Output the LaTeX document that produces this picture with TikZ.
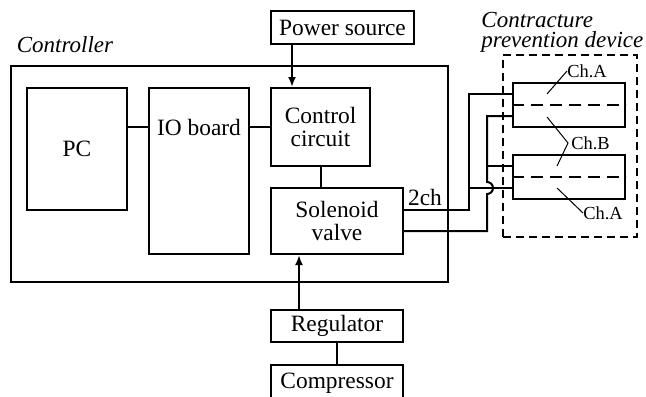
\documentclass[tikz,border=0pt]{standalone}
\usepackage{fontspec}
\setmainfont{Liberation Serif}
\usetikzlibrary{arrows.meta,calc}
\begin{document}
\begin{tikzpicture}[x=0.5pt,y=-0.5pt,
  sz/.style 2 args={minimum width=#1*0.5pt, minimum height=#2*0.5pt},
  box/.style={draw, line width=1pt, rectangle, inner sep=0pt, align=center, font=\fontsize{11.7}{11.5}\selectfont},
  lbl/.style={inner sep=0pt, font=\fontsize{11.7}{11.5}\selectfont},
  wire/.style={line width=1pt},
  arr/.style={line width=1pt, -{Latex[length=5pt,width=4pt]}},
  lead/.style={line width=0.5pt},
  chlbl/.style={font=\fontsize{9.2}{10}\selectfont, inner sep=0pt},
  ttl/.style={font=\fontsize{11.5}{10}\selectfont\itshape, inner sep=0pt, align=left},
  innerdash/.style={line width=1pt, dash pattern=on 6pt off 3.5pt},
  outerdash/.style={line width=0.6pt, dash pattern=on 4pt off 2.5pt}]
\useasboundingbox (0,0) rectangle (646,396);

% controller
\node[box, sz={437}{216}] (ctrl) at (229.5,174) {};
\node[ttl] (ctrltitle) at (65,45) {Controller};
\node[box, sz={100}{122}] (pc) at (77,149) {PC};
\node[box, sz={100}{166}] (io) at (199,171) {};
\node[lbl] (iotext) at (199,127) {IO board};
\node[box, sz={143}{33}] (power) at (342.5,27.5) {Power source};
\node[box, sz={99}{78}] (cc) at (320.5,127) {Control\\circuit};
\node[box, sz={132}{66}] (sv) at (337,221) {Solenoid\\valve};
\node[box, sz={132}{32}] (reg) at (337,326) {Regulator};
\node[box, sz={132}{36}] (comp) at (337,383) {Compressor};
\node[lbl] (twoch) at (425,197) {2ch};

% device
\node[draw, outerdash, sz={134}{182}] (dev) at (570,146) {};
\node[ttl, anchor=west] (devtitle) at (481,32) {Contracture\\prevention device};
\node[box, sz={112}{44}] (b1) at (569,105) {};
\node[box, sz={112}{44}] (b2) at (569,177) {};
\draw[innerdash] (b1.west) -- (b1.east);
\draw[innerdash] (b2.west) -- (b2.east);

% connections
\draw[wire] (iotext.west -| pc.east) -- (iotext.west -| io.west);
\draw[wire] (cc.west -| io.east) -- (cc.west);
\draw[arr] ([xshift=-14.25pt]power.south -| cc.north) -- ([xshift=-14.25pt]cc.north);
\draw[wire] (cc.south) -- (cc.south |- sv.north);
\draw[arr] ([xshift=-19pt]reg.north) -- ([xshift=-19pt]sv.south);
\draw[wire] (reg) -- (comp);

\coordinate (o1) at ([yshift=5.5pt]sv.east);
\coordinate (o2) at ([yshift=-5pt]sv.east);
\coordinate (b1a) at ([yshift=5.5pt]b1.west);
\coordinate (b1b) at ([yshift=-5.5pt]b1.west);
\coordinate (b2a) at ([yshift=5.5pt]b2.west);
\coordinate (b2b) at ([yshift=-5.5pt]b2.west);
\coordinate (xa) at (469,0);
\coordinate (xb) at (487,0);

\draw[wire] (o1) -| (xa |- b1a) -- (b1a);
\draw[wire] (xa |- b2b) -- (b2b);
\draw[wire] (o2) -| ([yshift=-3pt]xb |- b2b) arc[start angle=-90, end angle=90, radius=3pt] |- (b1b);
\draw[wire] (xb |- b2a) -- (b2a);

% channel labels
\node[chlbl, anchor=west] (cha1) at (567,71) {Ch.A};
\node[chlbl, anchor=west] (chb) at (571,143) {Ch.B};
\node[chlbl, anchor=west] (cha2) at (583,213) {Ch.A};
\coordinate (la1) at (547,94);
\coordinate (lb1) at (547,117);
\coordinate (lb2) at (557,166);
\coordinate (la2) at (557,188);
\coordinate (jb) at (568,143);
\draw[lead] (la1) -- (cha1.west);
\draw[lead] (lb1) -- (jb) -- (lb2);
\draw[lead] (la2) -- (cha2.west);
\end{tikzpicture}
\end{document}
